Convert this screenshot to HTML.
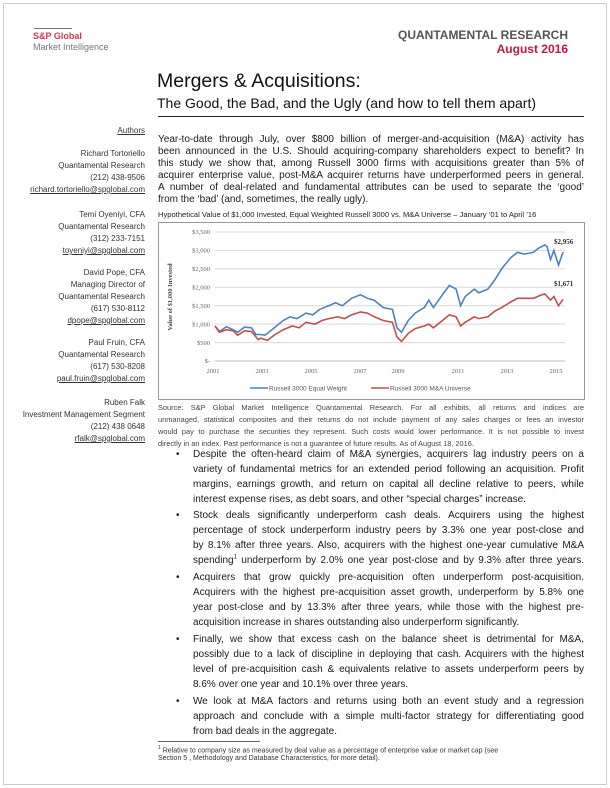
<!DOCTYPE html>
<html><head><meta charset="utf-8"><style>
body{margin:0;width:610px;height:788px;background:#fff;position:relative;overflow:hidden;font-family:"Liberation Sans",Arial,sans-serif;color:#111}
.a{position:absolute;white-space:nowrap}
.j{position:absolute;text-align:justify;text-align-last:justify;white-space:nowrap}
.sb{position:absolute;right:465px;text-align:right;font-size:8px;line-height:12px;color:#333}
.sb u{text-decoration:underline}
.p{font-size:10px;color:#1a1a1a}
.p div{line-height:12px}
.src{font-size:7.4px;color:#444}
.fn{font-size:7px;color:#333}
</style></head><body>
<div style="position:absolute;left:3px;top:3px;width:602px;height:780px;border:1px solid #c8cdd2"></div>

<div class="a" style="left:34px;top:28px;width:38px;height:1px;background:#777"></div>
<div class="a" style="left:33px;top:31px;font-size:9px;font-weight:bold;color:#d6374a">S&amp;P Global</div>
<div class="a" style="left:33px;top:42px;font-size:9px;color:#777">Market Intelligence</div>
<div class="a" style="right:42px;top:28px;font-size:12px;font-weight:bold;color:#555">QUANTAMENTAL RESEARCH</div>
<div class="a" style="right:42px;top:42px;font-size:12px;font-weight:bold;color:#c8173b">August 2016</div>

<div class="a" style="left:157px;top:70px;font-size:19.5px;color:#111">Mergers &amp; Acquisitions:</div>
<div class="a" style="left:157px;top:95px;font-size:14px;color:#111">The Good, the Bad, and the Ugly (and how to tell them apart)</div>
<div class="a" style="left:158px;top:116px;width:426px;height:1px;background:#222"></div>

<div class="sb" style="top:125px"><u>Authors</u></div>
<div class="sb" style="top:148px">Richard Tortoriello<br>Quantamental Research<br>(212) 438-9506<br><u>richard.tortoriello@spglobal.com</u></div>
<div class="sb" style="top:209px">Temi Oyeniyi, CFA<br>Quantamental Research<br>(312) 233-7151<br><u>toyeniyi@spglobal.com</u></div>
<div class="sb" style="top:267px">David Pope, CFA<br>Managing Director of<br>Quantamental Research<br>(617) 530-8112<br><u>dpope@spglobal.com</u></div>
<div class="sb" style="top:337px">Paul Fruin, CFA<br>Quantamental Research<br>(617) 530-8208<br><u>paul.fruin@spglobal.com</u></div>
<div class="sb" style="top:397px">Ruben Falk<br>Investment Management Segment<br>(212) 438 0648<br><u>rfalk@spglobal.com</u></div>

<div class="p">
<div class="j" style="left:158px;width:426px;top:134px">Year-to-date through July, over $800 billion of merger-and-acquisition (M&amp;A) activity has</div>
<div class="j" style="left:158px;width:426px;top:146px">been announced in the U.S. Should acquiring-company shareholders expect to benefit? In</div>
<div class="j" style="left:158px;width:426px;top:158px">this study we show that, among Russell 3000 firms with acquisitions greater than 5% of</div>
<div class="j" style="left:158px;width:426px;top:170px">acquirer enterprise value, post-M&amp;A acquirer returns have underperformed peers in general.</div>
<div class="j" style="left:158px;width:426px;top:182px">A number of deal-related and fundamental attributes can be used to separate the ‘good’</div>
<div class="a" style="left:158px;top:194px">from the ‘bad’ (and, sometimes, the really ugly).</div>
</div>
<div class="a" style="left:158px;top:210px;font-size:7.6px;color:#222">Hypothetical Value of $1,000 Invested, Equal Weighted Russell 3000 vs. M&amp;A Universe – January ’01 to April ’16</div>

<svg class="a" style="left:0;top:0" width="610" height="788">
<rect x="158.5" y="222.5" width="426" height="177" fill="#fff" stroke="#999"/>
<g stroke="#d8d8d8" stroke-width="1">
<line x1="215" x2="565" y1="232" y2="232"/><line x1="215" x2="565" y1="250.4" y2="250.4"/><line x1="215" x2="565" y1="268.9" y2="268.9"/><line x1="215" x2="565" y1="287.3" y2="287.3"/><line x1="215" x2="565" y1="305.7" y2="305.7"/><line x1="215" x2="565" y1="324.1" y2="324.1"/><line x1="215" x2="565" y1="342.6" y2="342.6"/><line x1="215" x2="565" y1="361" y2="361" stroke="#bbb"/>
</g>
<g font-size="6.5" fill="#666" text-anchor="end" font-family="Liberation Serif,serif">
<text x="210" y="234">$3,500</text><text x="210" y="252.5">$3,000</text><text x="210" y="271">$2,500</text><text x="210" y="289.5">$2,000</text><text x="210" y="308">$1,500</text><text x="210" y="326.5">$1,000</text><text x="210" y="345">$500</text><text x="210" y="363">$-</text>
</g>
<g font-size="6.5" fill="#666" text-anchor="middle" font-family="Liberation Serif,serif">
<text x="213" y="373">2001</text><text x="262" y="373">2003</text><text x="311" y="373">2005</text><text x="360" y="373">2007</text><text x="398" y="373">2009</text><text x="458" y="373">2011</text><text x="507" y="373">2013</text><text x="556" y="373">2015</text>
</g>
<text transform="translate(172,297) rotate(-90)" font-size="6.5" font-weight="bold" fill="#444" text-anchor="middle" font-family="Liberation Serif,serif">Value of $1,000 Invested</text>
<polyline id="b" fill="none" stroke="#4f81bd" stroke-width="1.6"/>
<polyline id="r" fill="none" stroke="#c0504d" stroke-width="1.6"/>
<text x="554" y="244" font-size="7" font-weight="bold" fill="#333" font-family="Liberation Serif,serif">$2,956</text>
<text x="554" y="286" font-size="7" font-weight="bold" fill="#333" font-family="Liberation Serif,serif">$1,671</text>
<line x1="250" x2="268" y1="388" y2="388" stroke="#4f81bd" stroke-width="1.6"/>
<text x="269" y="390.5" font-size="6.5" fill="#555">Russell 3000 Equal Weight</text>
<line x1="371" x2="389" y1="388" y2="388" stroke="#c0504d" stroke-width="1.6"/>
<text x="390" y="390.5" font-size="6.5" fill="#555">Russell 3000 M&amp;A Universe</text>
<line x1="158" x2="260" y1="741.5" y2="741.5" stroke="#333" stroke-width="0.8"/>
</svg>

<div class="src">
<div class="j" style="left:158px;width:426px;top:403px">Source: S&amp;P Global Market Intelligence Quantamental Research. For all exhibits, all returns and indices are</div>
<div class="j" style="left:158px;width:426px;top:415px">unmanaged, statistical composites and their returns do not include payment of any sales charges or fees an investor</div>
<div class="j" style="left:158px;width:426px;top:427px">would pay to purchase the securities they represent. Such costs would lower performance. It is not possible to invest</div>
<div class="a" style="left:158px;top:439px">directly in an index. Past performance is not a guarantee of future results. As of August 18, 2016.</div>
</div>

<div class="p" id="bul"></div>

<div class="fn">
<div class="a" style="left:158px;top:745px"><sup style="font-size:5px">1</sup> Relative to company size as measured by deal value as a percentage of enterprise value or market cap (see</div>
<div class="a" style="left:158px;top:755px">Section 5 , Methodology and Database Characteristics, for more detail).</div>
</div>

<script>
function X(t){return 215+(t-2001)/15.3*348}
function Y(v){return 361-v/3500*129}
var B=[2001,950,2001.2,800,2001.5,930,2001.8,850,2002,780,2002.3,920,2002.6,900,2002.8,720,2003,720,2003.2,700,2003.5,850,2004,1100,2004.3,1200,2004.6,1150,2005,1300,2005.3,1250,2005.6,1400,2006,1500,2006.3,1580,2006.6,1500,2007,1700,2007.4,1800,2007.7,1700,2008,1650,2008.4,1450,2008.8,1400,2009,900,2009.2,780,2009.5,1100,2009.8,1300,2010.2,1450,2010.4,1650,2010.6,1450,2011,1800,2011.3,2050,2011.6,1950,2011.8,1500,2012,1750,2012.4,1950,2012.6,1850,2013,1950,2013.3,2200,2013.6,2500,2014,2800,2014.3,2950,2014.6,2900,2015,2950,2015.2,3050,2015.5,3150,2015.6,3100,2015.75,2750,2015.9,3000,2016.1,2600,2016.3,2956];
var R=[2001,950,2001.2,780,2001.5,850,2001.8,820,2002,700,2002.3,820,2002.6,800,2002.9,580,2003,620,2003.3,560,2003.6,700,2004,850,2004.4,950,2004.7,900,2005,1050,2005.4,1000,2005.7,1100,2006,1150,2006.4,1200,2006.7,1150,2007,1250,2007.4,1330,2007.7,1300,2008,1200,2008.4,1100,2008.8,1050,2009,650,2009.2,530,2009.5,750,2009.8,880,2010.2,950,2010.4,1000,2010.6,900,2011,1100,2011.3,1250,2011.6,1200,2011.8,950,2012,1050,2012.4,1200,2012.6,1150,2013,1200,2013.3,1350,2013.6,1450,2014,1600,2014.3,1700,2014.6,1700,2015,1700,2015.3,1780,2015.5,1820,2015.75,1650,2015.9,1750,2016.1,1500,2016.3,1671];
function pts(a){var s=[];for(var i=0;i<a.length;i+=2)s.push(X(a[i]).toFixed(1)+","+Y(a[i+1]).toFixed(1));return s.join(" ")}
document.getElementById("b").setAttribute("points",pts(B));
document.getElementById("r").setAttribute("points",pts(R));
var L=[
[455,1,"Despite the often-heard claim of M&amp;A synergies, acquirers lag industry peers on a",1],
[470,0,"variety of fundamental metrics for an extended period following an acquisition. Profit",1],
[485,0,"margins, earnings growth, and return on capital all decline relative to peers, while",1],
[500,0,"interest expense rises, as debt soars, and other “special charges” increase.",0],
[516,1,"Stock deals significantly underperform cash deals. Acquirers using the highest",1],
[531,0,"percentage of stock underperform industry peers by 3.3% one year post-close and",1],
[546,0,"by 8.1% after three years. Also, acquirers with the highest one-year cumulative M&amp;A",1],
[561,0,"spending<sup style='font-size:6px;line-height:0'>1</sup> underperform by 2.0% one year post-close and by 9.3% after three years.",1],
[578,1,"Acquirers that grow quickly pre-acquisition often underperform post-acquisition.",1],
[593,0,"Acquirers with the highest pre-acquisition asset growth, underperform by 5.8% one",1],
[608,0,"year post-close and by 13.3% after three years, while those with the highest pre-",1],
[623,0,"acquisition increase in shares outstanding also underperform significantly.",0],
[640,1,"Finally, we show that excess cash on the balance sheet is detrimental for M&amp;A,",1],
[655,0,"possibly due to a lack of discipline in deploying that cash. Acquirers with the highest",1],
[670,0,"level of pre-acquisition cash &amp; equivalents relative to assets underperform peers by",1],
[685,0,"8.6% over one year and 10.1% over three years.",0],
[702,1,"We look at M&amp;A factors and returns using both an event study and a regression",1],
[717,0,"approach and conclude with a simple multi-factor strategy for differentiating good",1],
[732,0,"from bad deals in the aggregate.",0]];
var h="";
L.forEach(function(l){
 var t=l[0]-6;
 if(l[1])h+="<div class='a' style='left:176px;top:"+t+"px'>•</div>";
 h+="<div class='"+(l[3]?"j":"a")+"' style='left:193px;width:391px;top:"+t+"px'>"+l[2]+"</div>";
});
document.getElementById("bul").innerHTML=h;
</script>
</body></html>
